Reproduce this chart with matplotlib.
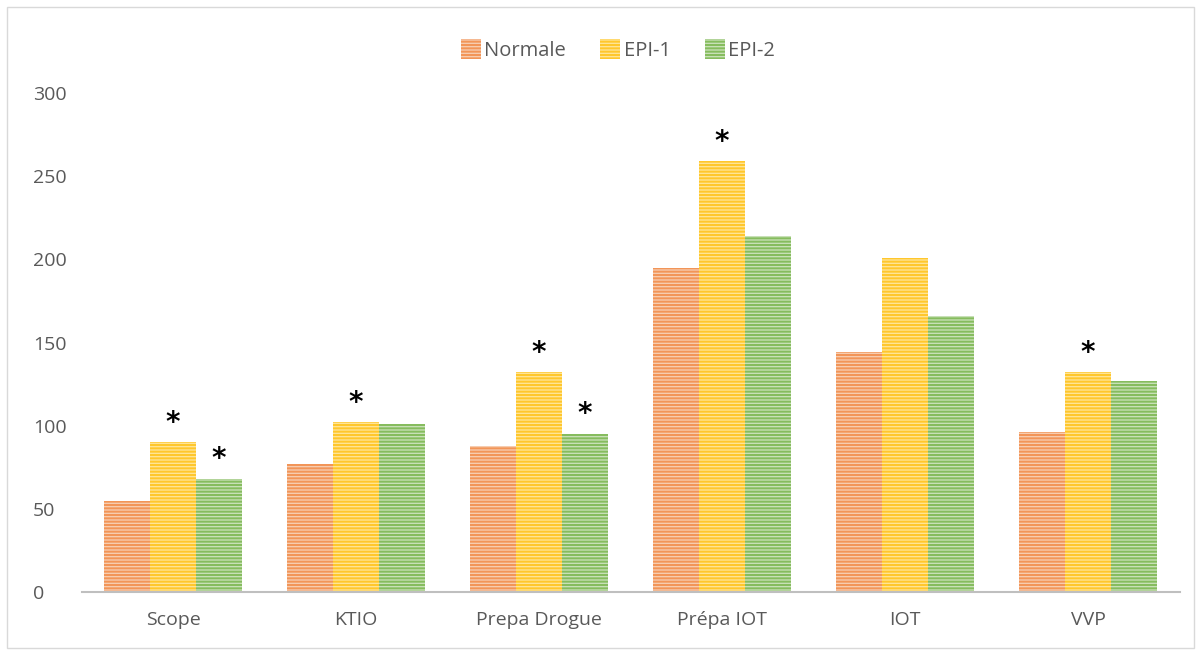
import matplotlib
matplotlib.use("Agg")
import matplotlib.pyplot as plt
import numpy as np
from matplotlib.patches import Rectangle

categories = ["Scope", "KTIO", "Prepa Drogue", "Prépa IOT", "IOT", "VVP"]
series_names = ["Normale", "EPI-1", "EPI-2"]
normale = [55, 77, 88, 195, 144, 96]
epi1 = [90, 102, 132, 259, 201, 132]
epi2 = [68, 101, 95, 214, 166, 127]
yticks = [0, 50, 100, 150, 200, 250, 300]
# significance stars: (category index, series index)
stars = [(0, 1), (0, 2), (1, 1), (2, 1), (2, 2), (3, 1), (5, 1)]

values = [normale, epi1, epi2]
dark = ["#F29558", "#FFC72C", "#86BC5E"]
light = ["#F8CDB0", "#FFE595", "#C9E1B8"]

plt.rcParams['font.family'] = ['Open Sans', 'DejaVu Sans']
plt.rcParams['hatch.linewidth'] = 1.45

W, H = 1201, 655
fig = plt.figure(figsize=(W / 100, H / 100), dpi=100)
ax = fig.add_axes([81.5 / W, 1 - 592 / H, 1098 / W, (592 - 93) / H])

x = np.arange(len(categories))
width = 0.25
for i, (name, vals) in enumerate(zip(series_names, values)):
    ax.bar(x + (i - 1) * width, vals, width, color=light[i], edgecolor=dark[i],
           linewidth=0, hatch='-----', label=name)

for ci, si in stars:
    ax.annotate("*", (x[ci] + (si - 1) * width, values[si][ci]), xytext=(0, 4),
                textcoords="offset points", ha="center", va="bottom",
                fontsize=20, color="black", family="DejaVu Sans", fontweight="bold")

ax.set_xlim(-0.5, len(categories) - 0.5)
ax.set_ylim(0, 300)
ax.set_yticks(yticks)
ax.set_xticks(x)
ax.set_xticklabels(categories)
for s in ["top", "right", "left"]:
    ax.spines[s].set_visible(False)
ax.spines["bottom"].set_color("#BFBFBF")
ax.spines["bottom"].set_linewidth(1.5)
ax.tick_params(axis="both", length=0, labelsize=14, labelcolor="#595959")
ax.tick_params(axis="y", pad=35)
ax.tick_params(axis="x", pad=14)
for lab in ax.get_yticklabels():
    lab.set_ha("left")

leg = fig.legend(loc="center", bbox_to_anchor=(618 / W, 1 - 50 / H), ncol=3,
                 frameon=False, fontsize=14.5, handlelength=1.0, handleheight=1.1,
                 handletextpad=0.15, columnspacing=1.7)
for t in leg.get_texts():
    t.set_color("#595959")

fig.patches.append(Rectangle((7 / W, 7 / H), 1 - 14 / W, 1 - 14 / H,
                             transform=fig.transFigure, fill=False,
                             edgecolor="#D9D9D9", linewidth=1))

fig.savefig("out.png", dpi=100)
